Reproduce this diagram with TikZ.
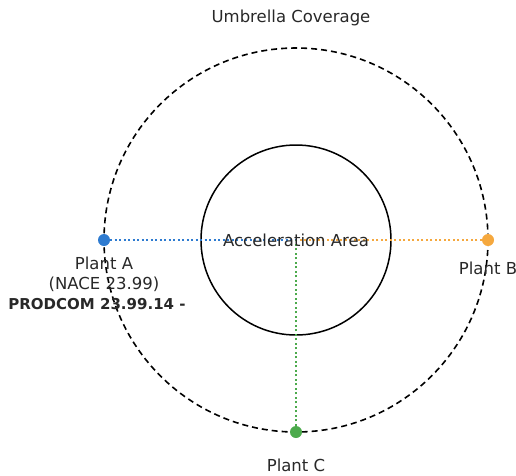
\documentclass[tikz,border=0pt]{standalone}
\usepackage{fontspec}
\setmainfont{DejaVu Sans}
\usepackage{tikz}
\definecolor{plantblue}{RGB}{46,123,208}
\definecolor{plantorange}{RGB}{245,168,62}
\definecolor{plantgreen}{RGB}{76,170,76}
\definecolor{labelgray}{RGB}{40,40,40}
\begin{document}
\begin{tikzpicture}[x=1pt,y=-1pt]
			\tikzstyle{every node}+=[inner sep=0pt, font=\fontsize{16.5}{18}\selectfont, text=labelgray]
			\tikzstyle{plant}=[circle, minimum size=12pt]
			\tikzstyle{link}=[dash pattern=on 2pt off 2.5pt, line width=2pt]
			\useasboundingbox (0,0) rectangle (516,475);
			\coordinate (centre) at (296,240);
			\draw [black, dash pattern=on 6pt off 4pt, line width=1.6pt] (centre) circle (192);
			\draw [black, line width=1.5pt] (centre) circle (95);
			\node (a) [plant, fill=plantblue] at (104,240) {};
			\node (b) [plant, fill=plantorange] at (488,240) {};
			\node (c) [plant, fill=plantgreen] at (296,432) {};
			\draw [link, plantblue] (a) -- (centre);
			\draw [link, plantorange] (b) -- (centre);
			\draw [link, plantgreen] (c) -- (centre);
			\node (area) at (centre) {Acceleration Area};
			\node (title) at (291,18) {Umbrella Coverage};
			\node (labela) at (104,263) {Plant A};
			\node (nacea) at (104,284) {(NACE 23.99)};
			\node (proda) at (97,304) {\fontsize{15}{18}\selectfont\bfseries PRODCOM 23.99.14 -};
			\node (labelb) at (488,268) {Plant B};
			\node (labelc) at (296,465) {Plant C};
\end{tikzpicture}
\end{document}
